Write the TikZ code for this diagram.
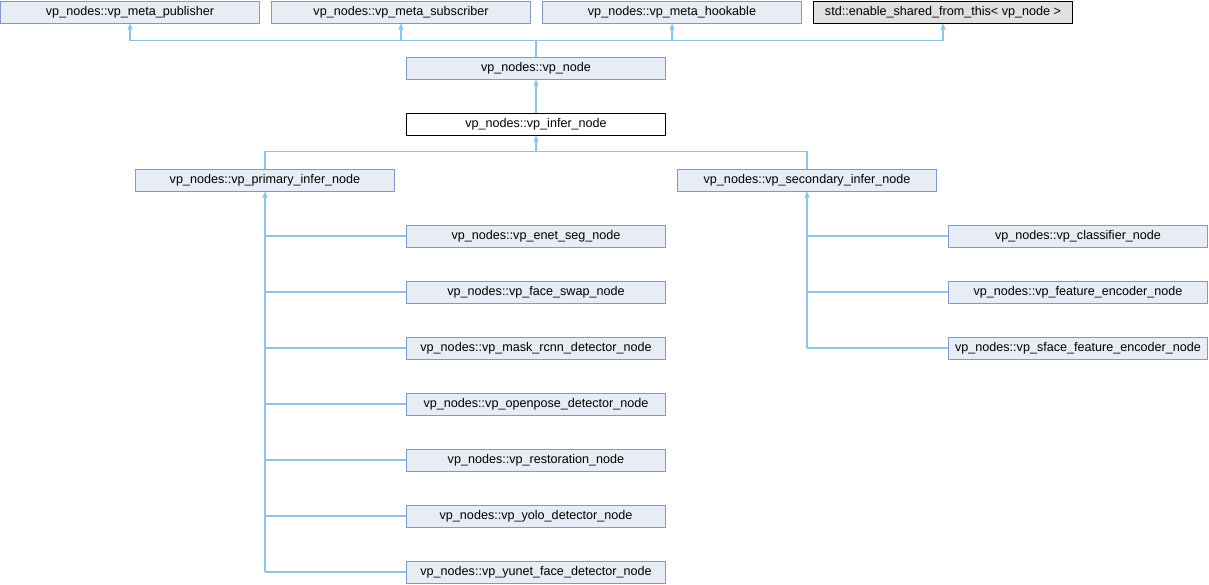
\documentclass[tikz,border=0pt]{standalone}
\usepackage{fontspec}
\setmainfont{Liberation Sans}
\usetikzlibrary{arrows.meta,calc}
\definecolor{boxfill}{RGB}{232,236,245}
\definecolor{boxline}{RGB}{128,152,204}
\definecolor{edgeblue}{RGB}{140,196,234}
\definecolor{extfill}{RGB}{224,224,224}
\begin{document}
\begin{tikzpicture}[x=1pt,y=1pt,
  cls/.style={draw=boxline,fill=boxfill,line width=1pt,minimum width=259pt,minimum height=22pt,
    inner sep=0pt,font=\fontsize{12.6}{14}\selectfont},
  cur/.style={cls,draw=black,fill=white},
  ext/.style={cls,draw=black,fill=extfill},
  edge/.style={draw=edgeblue,line width=1.1pt},
  inh/.style={edge,-{Triangle[length=6pt,width=5pt]}}
]
\useasboundingbox (0,0) rectangle (1209,-584);
% a box whose top-left corner is (#1,-#2)
\def\at#1#2{(#1+130,-#2-12)}
% base classes
\node[cls] (pub)    at \at{0}{0}   {vp\_nodes::vp\_meta\_publisher};
\node[cls] (sub)    at \at{271}{0} {vp\_nodes::vp\_meta\_subscriber};
\node[cls] (hook)   at \at{542}{0} {vp\_nodes::vp\_meta\_hookable};
\node[ext] (shared) at \at{813}{0} {std::enable\_shared\_from\_this< vp\_node >};
% main chain
\node[cls] (vpnode) at \at{406}{56}  {vp\_nodes::vp\_node};
\node[cur] (infer)  at \at{406}{112} {vp\_nodes::vp\_infer\_node};
\node[cls] (prim)   at \at{135}{168} {vp\_nodes::vp\_primary\_infer\_node};
\node[cls] (sec)    at \at{677}{168} {vp\_nodes::vp\_secondary\_infer\_node};
% primary inference nodes
\node[cls] (enet)    at \at{406}{224} {vp\_nodes::vp\_enet\_seg\_node};
\node[cls] (swap)    at \at{406}{280} {vp\_nodes::vp\_face\_swap\_node};
\node[cls] (mask)    at \at{406}{336} {vp\_nodes::vp\_mask\_rcnn\_detector\_node};
\node[cls] (pose)    at \at{406}{392} {vp\_nodes::vp\_openpose\_detector\_node};
\node[cls] (restore) at \at{406}{448} {vp\_nodes::vp\_restoration\_node};
\node[cls] (yolo)    at \at{406}{504} {vp\_nodes::vp\_yolo\_detector\_node};
\node[cls] (yunet)   at \at{406}{560} {vp\_nodes::vp\_yunet\_face\_detector\_node};
% secondary inference nodes
\node[cls] (classif) at \at{948}{224} {vp\_nodes::vp\_classifier\_node};
\node[cls] (feat)    at \at{948}{280} {vp\_nodes::vp\_feature\_encoder\_node};
\node[cls] (sface)   at \at{948}{336} {vp\_nodes::vp\_sface\_feature\_encoder\_node};
% vp_node -> its four bases
\coordinate (bus1) at ($(vpnode.north)+(0,16)$);
\draw[edge] (vpnode.north) -- (bus1);
\foreach \b in {pub,sub,hook,shared} \draw[inh] (bus1) -| (\b.south);
% vp_node <- vp_infer_node
\draw[inh] (infer.north) -- (vpnode.south);
% vp_infer_node <- primary / secondary
\coordinate (bus2) at ($(infer.south)+(0,-16)$);
\draw[edge] (prim.north) |- (bus2) -| (sec.north);
\draw[inh] (bus2) -- (infer.south);
% primary children
\draw[inh] (prim.south |- yunet.west) -- (prim.south);
\foreach \c in {enet,swap,mask,pose,restore,yolo,yunet}
  \draw[edge] (prim.south |- \c.west) -- (\c.west);
% secondary children
\draw[inh] (sec.south |- sface.west) -- (sec.south);
\foreach \c in {classif,feat,sface}
  \draw[edge] (sec.south |- \c.west) -- (\c.west);
\end{tikzpicture}
\end{document}
